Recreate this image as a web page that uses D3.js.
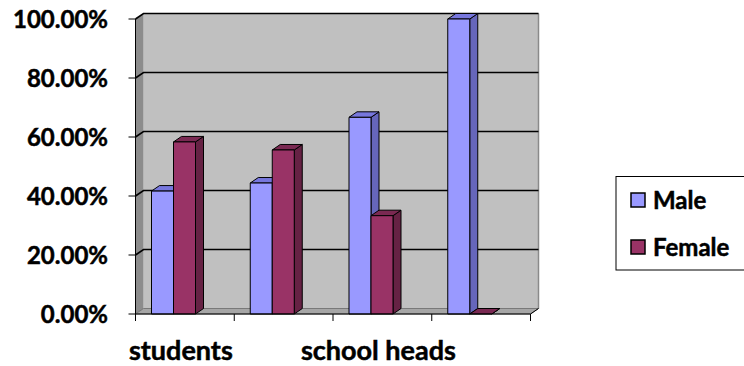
<!DOCTYPE html>
<html>
<head>
<meta charset="utf-8">
<script src="https://cdn.jsdelivr.net/npm/d3@7"></script>
<style>
  html, body { margin: 0; padding: 0; background: #ffffff; }
  svg { display: block; }
  text { font-family: Lato, "Open Sans", sans-serif; font-weight: bold; fill: #000; stroke: #000; stroke-width: 0.5px; }
</style>
</head>
<body>
<svg id="chart" width="744" height="366"></svg>
<script>
// Share of each group by gender
const categories = ["students", "cat2", "school heads", "cat4"];
const categoryLabels = ["students", "", "school heads", ""];
const seriesNames = ["Male", "Female"];
const maleValues = [0.4167, 0.444, 0.6667, 1.0];
const femaleValues = [0.5833, 0.556, 0.3333, 0.0];
const yTicks = [0, 0.2, 0.4, 0.6, 0.8, 1.0];

const colors = {
  Male:   { front: "#9999ff", side: "#6666bb", top: "#7777dd" },
  Female: { front: "#993366", side: "#662244", top: "#7a2952" }
};

const svg = d3.select("#chart");

// 3D depth offset
const dx = 8, dy = 5.5;

const y = d3.scaleLinear().domain([0, 1]).range([314, 19]);
const x = d3.scaleBand().domain(categories).range([135.5, 530.5]).paddingInner(0).paddingOuter(0);
const xs = d3.scaleBand().domain(seriesNames).range([0, 44]);
const barOffset = 16;

const x0 = x.range()[0], x1 = x.range()[1];
const yBase = y(0), yTop = y(1);

// Back wall
svg.append("rect")
  .attr("x", x0 + dx).attr("y", yTop - dy)
  .attr("width", x1 - x0).attr("height", yBase - yTop)
  .attr("fill", "#c0c0c0");
// right edge shading of the back wall
svg.append("line")
  .attr("x1", x1 + dx).attr("x2", x1 + dx)
  .attr("y1", yTop - dy).attr("y2", yBase - dy)
  .attr("stroke", "#8a8a8a").attr("stroke-width", 1.5);

// Side wall
svg.append("polygon")
  .attr("points", [[x0, yTop], [x0 + dx, yTop - dy], [x0 + dx, yBase - dy], [x0, yBase]].join(" "))
  .attr("fill", "#8c8c8c");

// Floor
svg.append("polygon")
  .attr("points", [[x0, yBase], [x0 + dx, yBase - dy], [x1 + dx, yBase - dy], [x1, yBase]].join(" "))
  .attr("fill", "#a6a6a6")
  .attr("stroke", "#666").attr("stroke-width", 0.8);

// Gridlines across the side wall and the back wall
const grid = svg.append("g");
yTicks.forEach(t => {
  if (t === 0) return;
  grid.append("polyline")
    .attr("points", [[x0, y(t)], [x0 + dx, y(t) - dy], [x1 + dx, y(t) - dy]].join(" "))
    .attr("fill", "none")
    .attr("stroke", "#000").attr("stroke-width", 1.6);
});

// Bars
const rows = categories.map((c, i) => ({ cat: c, Male: maleValues[i], Female: femaleValues[i] }));
const bars = svg.append("g");
rows.forEach(r => {
  seriesNames.forEach(s => {
    const v = r[s];
    const bx = x(r.cat) + barOffset + xs(s);
    const bw = xs.bandwidth();
    const by = y(v);
    const col = colors[s];
    const g = bars.append("g").attr("stroke", "#000").attr("stroke-width", 1).attr("stroke-linejoin", "round");
    // side face
    g.append("polygon")
      .attr("points", [[bx + bw, by], [bx + bw + dx, by - dy], [bx + bw + dx, yBase - dy], [bx + bw, yBase]].join(" "))
      .attr("fill", col.side);
    // top face
    g.append("polygon")
      .attr("points", [[bx, by], [bx + dx, by - dy], [bx + bw + dx, by - dy], [bx + bw, by]].join(" "))
      .attr("fill", col.top);
    // front face
    if (v > 0) {
      g.append("rect")
        .attr("x", bx).attr("y", by)
        .attr("width", bw).attr("height", yBase - by)
        .attr("fill", col.front);
    }
  });
});

// Value axis
const yAxis = svg.append("g");
yAxis.append("line")
  .attr("x1", x0).attr("x2", x0).attr("y1", yTop).attr("y2", yBase)
  .attr("stroke", "#000").attr("stroke-width", 1);
yTicks.forEach(t => {
  yAxis.append("line")
    .attr("x1", x0 - 7).attr("x2", x0).attr("y1", y(t)).attr("y2", y(t))
    .attr("stroke", "#000").attr("stroke-width", 1);
  yAxis.append("text")
    .attr("x", 108).attr("y", y(t))
    .attr("dy", "0.36em")
    .attr("text-anchor", "end")
    .attr("font-size", 24)
    .text(d3.format(".2%")(t));
});

// Category axis
const xAxis = svg.append("g");
xAxis.append("line")
  .attr("x1", x0).attr("x2", x1).attr("y1", yBase).attr("y2", yBase)
  .attr("stroke", "#000").attr("stroke-width", 1);
const tickPos = categories.map(c => x(c)).concat([x1]);
tickPos.forEach(p => {
  xAxis.append("line")
    .attr("x1", p).attr("x2", p).attr("y1", yBase).attr("y2", yBase + 7)
    .attr("stroke", "#000").attr("stroke-width", 1);
});
// back-right floor edge tick
xAxis.append("line")
  .attr("x1", x1).attr("x2", x1 + dx).attr("y1", yBase).attr("y2", yBase - dy)
  .attr("stroke", "#000").attr("stroke-width", 1);
categories.forEach((c, i) => {
  if (!categoryLabels[i]) return;
  xAxis.append("text")
    .attr("x", x(c) + x.bandwidth() / 2 - 4)
    .attr("y", 360)
    .attr("text-anchor", "middle")
    .attr("font-size", 27)
    .text(categoryLabels[i]);
});

// Legend
const legend = svg.append("g");
legend.append("rect")
  .attr("x", 616).attr("y", 176.5).attr("width", 140).attr("height", 93.5)
  .attr("fill", "#fff").attr("stroke", "#000").attr("stroke-width", 1);
const legendY = [200, 247];
seriesNames.forEach((s, i) => {
  legend.append("rect")
    .attr("x", 631).attr("y", legendY[i] - 7)
    .attr("width", 14).attr("height", 14)
    .attr("fill", colors[s].front)
    .attr("stroke", "#000").attr("stroke-width", 1.5);
  legend.append("text")
    .attr("x", 653).attr("y", legendY[i])
    .attr("dy", "0.36em")
    .attr("font-size", 24)
    .text(s);
});
</script>
</body>
</html>
